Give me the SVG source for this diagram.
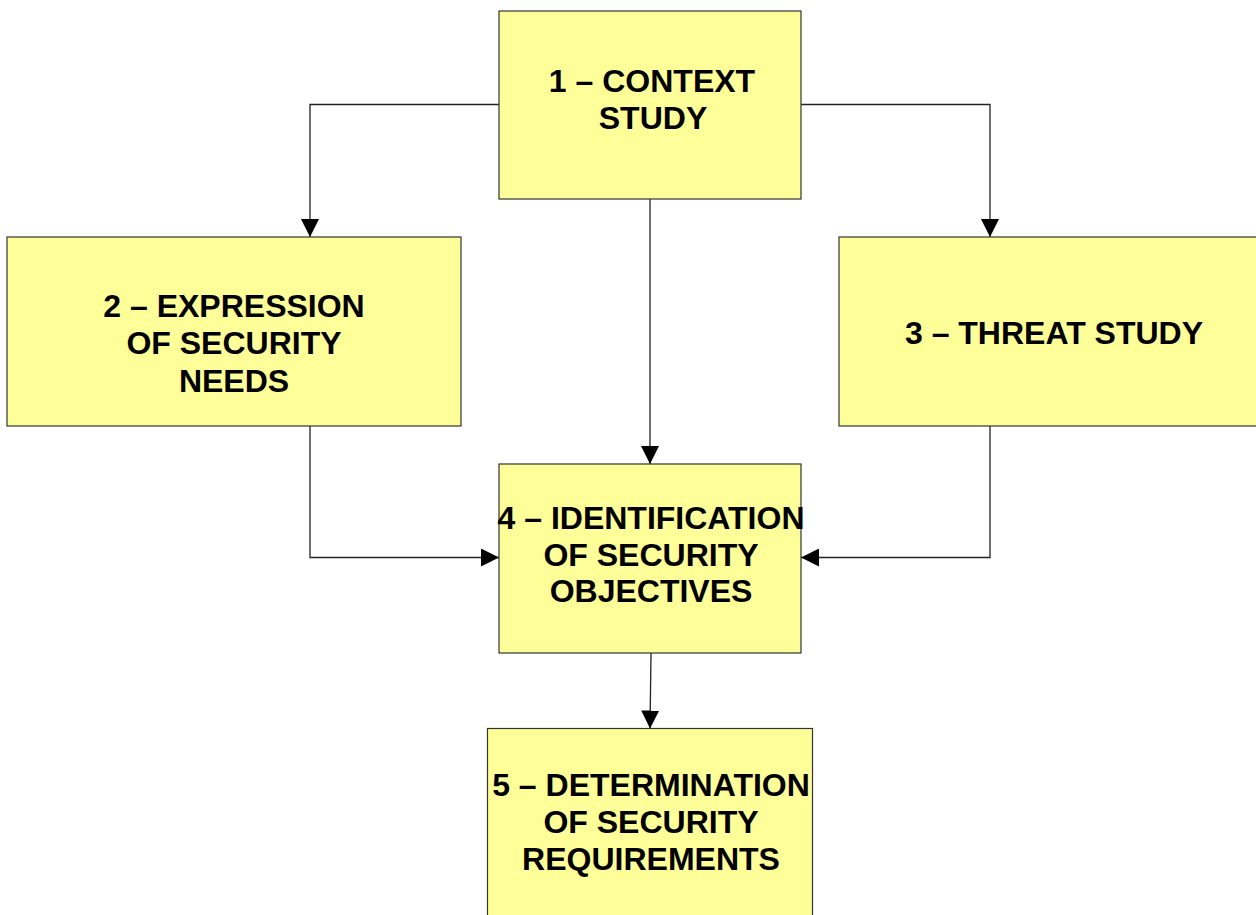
<svg xmlns="http://www.w3.org/2000/svg" width="1256" height="915" viewBox="0 0 1256 915">
<style>
.box{fill:#FFFF99;stroke:#333333;stroke-width:1.2}
.lbl{font-family:"Liberation Sans",Arial,sans-serif;font-weight:bold;font-size:32px;fill:#000000;text-anchor:middle}
.conn{fill:none;stroke:#222222;stroke-width:1.3}
</style>
<defs>
<marker id="arr" markerUnits="userSpaceOnUse" markerWidth="18" markerHeight="18" refX="18" refY="9" orient="auto" viewBox="0 0 18 18">
<path d="M0,0 L18,9 L0,18 z" fill="#000000"/>
</marker>
</defs>
<rect width="1256" height="915" fill="#FFFFFF"/>
<g id="connectors">
<polyline class="conn" points="499,104.5 310,104.5 310,237" marker-end="url(#arr)"/>
<polyline class="conn" points="801,104.5 990,104.5 990,237" marker-end="url(#arr)"/>
<line class="conn" x1="650" y1="199" x2="650" y2="464" marker-end="url(#arr)"/>
<polyline class="conn" points="310,426 310,557.5 499,557.5" marker-end="url(#arr)"/>
<polyline class="conn" points="990,426 990,557.5 801,557.5" marker-end="url(#arr)"/>
<line class="conn" x1="651" y1="653" x2="650" y2="728.5" marker-end="url(#arr)"/>
</g>
<g id="node1">
<rect class="box" x="499" y="11" width="302" height="188"/>
<text class="lbl" x="652" y="92">1 – CONTEXT</text>
<text class="lbl" x="653" y="128.5">STUDY</text>
</g>
<g id="node2">
<rect class="box" x="7" y="237" width="454" height="189"/>
<text class="lbl" x="234" y="317">2 – EXPRESSION</text>
<text class="lbl" x="234" y="354">OF SECURITY</text>
<text class="lbl" x="234" y="391.5">NEEDS</text>
</g>
<g id="node3">
<rect class="box" x="839" y="237" width="430" height="189"/>
<text class="lbl" x="1054" y="344">3 – THREAT STUDY</text>
</g>
<g id="node4">
<rect class="box" x="499" y="464" width="302" height="189"/>
<text class="lbl" x="651" y="529">4 – IDENTIFICATION</text>
<text class="lbl" x="651" y="566">OF SECURITY</text>
<text class="lbl" x="651" y="602">OBJECTIVES</text>
</g>
<g id="node5">
<rect class="box" x="487.5" y="728.5" width="325" height="200"/>
<text class="lbl" x="651" y="795.5">5 – DETERMINATION</text>
<text class="lbl" x="651" y="832.5">OF SECURITY</text>
<text class="lbl" x="651" y="869.5">REQUIREMENTS</text>
</g>
</svg>
